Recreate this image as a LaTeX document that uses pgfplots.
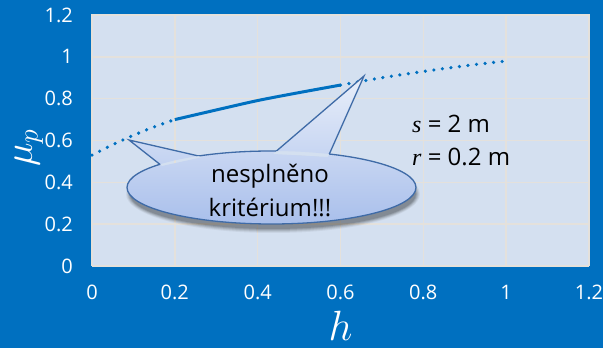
\documentclass[border=0pt]{standalone}
\usepackage{fontspec}
\setmainfont{Open Sans}
\newfontfamily\serifit{Liberation Serif}
\usepackage{pgfplots}
\pgfplotsset{compat=1.18}
\definecolor{bgblue}{HTML}{0070C0}
\definecolor{plotbg}{HTML}{D4E0F0}
\definecolor{gridc}{HTML}{E4E1DC}
\definecolor{curve}{HTML}{0070C0}
\definecolor{calltop}{HTML}{E9EFFA}
\definecolor{callbot}{HTML}{A9BFEB}
\definecolor{calledge}{HTML}{3F6BA7}

\begin{document}
\begin{tikzpicture}
\fill[bgblue] (-92pt,-82pt) rectangle (511pt,266pt);
\path[use as bounding box] (-92pt,-82pt) rectangle (511pt,266pt);
\begin{axis}[
  scale only axis, width=497pt, height=251pt,
  xmin=0, xmax=1.2, ymin=0, ymax=1.2,
  xtick={0,0.2,0.4,0.6,0.8,1,1.2},
  ytick={0,0.2,0.4,0.6,0.8,1,1.2},
  axis background/.style={fill=plotbg},
  axis line style={draw=gridc, line width=1pt},
  grid=major, major grid style={gridc, line width=1.5pt},
  major tick length=0pt,
  tick label style={white, font=\fontsize{20}{22}\selectfont, inner sep=0pt},
  xticklabel shift=19pt, yticklabel shift=19pt,
  /pgf/number format/assume math mode=true,
  xlabel={$h$}, ylabel={$\mu_p$},
  xlabel style={white, font=\fontsize{24}{26}\selectfont, inner sep=0pt, scale=1.7,
    at={(axis description cs:0.5,-0.238)}, anchor=center},
  ylabel style={white, font=\fontsize{24}{26}\selectfont, inner sep=0pt, scale=1.6,
    at={(axis description cs:-0.127,0.47)}, anchor=center},
  clip=false,
]
% dotted part before the valid range
\addplot[curve, line width=3.6pt, line cap=round, dash pattern=on 0pt off 8.6pt, smooth]
  coordinates {(0,0.53) (0.05,0.58) (0.1,0.625) (0.15,0.665) (0.2,0.70)};
% valid range
\addplot[curve, line width=3pt, smooth]
  coordinates {(0.2,0.70) (0.3,0.746) (0.4,0.791) (0.5,0.829) (0.6,0.865)};
% dotted part after
\addplot[curve, line width=3.6pt, line cap=round, dash pattern=on 0pt off 8.6pt, smooth]
  coordinates {(0.6,0.865) (0.7,0.90) (0.8,0.93) (0.9,0.957) (1,0.98)};
\end{axis}

% callout
\def\callpath{(179.5pt,78.5pt) ellipse [x radius=144.5pt, y radius=36.5pt]
  (70pt,100pt) -- (37pt,126pt) -- (111pt,109pt) -- cycle
  (181pt,112pt) -- (272pt,190pt) -- (236pt,109pt) -- cycle}
\foreach \d/\o in {5/0.05,4/0.07,3/0.09,2/0.11,1/0.13} {
  \fill[black, opacity=\o] (181pt,72pt) ellipse [x radius=142pt+\d pt, y radius=34pt+\d pt];
}
\shade[top color=calltop, bottom color=callbot] \callpath;
\begin{scope}[even odd rule]
  \clip (-100pt,-100pt) rectangle (520pt,270pt)
    (70pt,100pt) -- (37pt,126pt) -- (111pt,109pt) -- cycle
    (181pt,112pt) -- (272pt,190pt) -- (236pt,109pt) -- cycle;
  \draw[calledge, line width=1.3pt] (179.5pt,78.5pt) ellipse [x radius=144.5pt, y radius=36.5pt];
\end{scope}
\begin{scope}[even odd rule]
  \clip (-100pt,-100pt) rectangle (520pt,270pt)
    (179.5pt,78.5pt) ellipse [x radius=144.5pt, y radius=36.5pt];
  \draw[calledge, line width=1.3pt] (70pt,100pt) -- (37pt,126pt) -- (111pt,109pt);
  \draw[calledge, line width=1.3pt] (181pt,112pt) -- (272pt,190pt) -- (236pt,109pt);
\end{scope}
\node[align=center, font=\fontsize{24}{34}\selectfont, inner sep=0pt] at (178pt,76pt)
  {nesplněno\\kritérium!!!};

\node[anchor=base west, inner sep=0pt, font=\fontsize{24}{26}\selectfont] at (320pt,133pt)
  {{\serifit\itshape s} = 2 m};
\node[anchor=base west, inner sep=0pt, font=\fontsize{24}{26}\selectfont] at (320pt,100pt)
  {{\serifit\itshape r} = 0.2 m};
\end{tikzpicture}
\end{document}
